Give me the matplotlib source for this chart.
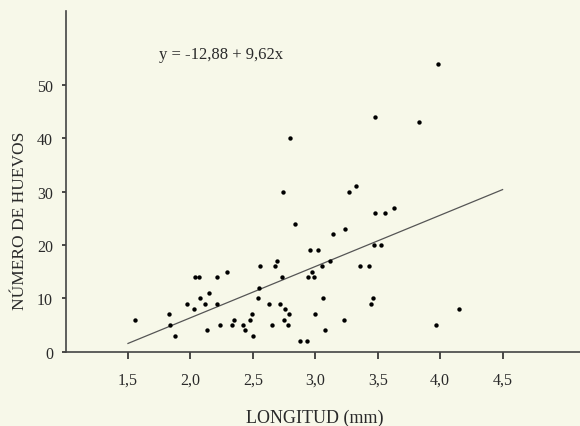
import matplotlib

matplotlib.use("Agg")
import matplotlib.pyplot as plt

# longitud (mm) vs número de huevos
longitud = [1.56, 1.83, 1.84, 1.88, 1.97, 2.03, 2.04, 2.07, 2.08, 2.12,
            2.13, 2.15, 2.21, 2.21, 2.24, 2.29, 2.33, 2.35, 2.42, 2.44,
            2.48, 2.49, 2.50, 2.54, 2.55, 2.56, 2.63, 2.65, 2.68, 2.69,
            2.72, 2.73, 2.74, 2.75, 2.76, 2.78, 2.79, 2.80, 2.84, 2.88,
            2.93, 2.94, 2.96, 2.97, 2.99, 3.00, 3.02, 3.05, 3.06, 3.08,
            3.12, 3.14, 3.23, 3.24, 3.27, 3.33, 3.36, 3.43, 3.45, 3.46,
            3.47, 3.48, 3.53, 3.56, 3.63, 3.97, 4.15, 3.98, 3.48, 3.83]
huevos = [6, 7, 5, 3, 9, 8, 14, 14, 10, 9,
          4, 11, 14, 9, 5, 15, 5, 6, 5, 4,
          6, 7, 3, 10, 12, 16, 9, 5, 16, 17,
          9, 14, 30, 6, 8, 5, 7, 40, 24, 2,
          2, 14, 19, 15, 14, 7, 19, 16, 10, 4,
          17, 22, 6, 23, 30, 31, 16, 16, 9, 10,
          20, 26, 20, 26, 27, 5, 8, 54, 44, 43]

intercept, slope = -12.88, 9.62
fit_x = [1.5, 4.5]
x_ticks = [1.5, 2.0, 2.5, 3.0, 3.5, 4.0, 4.5]
y_ticks = [0, 10, 20, 30, 40, 50]

bg = "#f7f8e9"
ink = "#2a2a2a"
fs = 11.5
plt.rcParams["font.family"] = ["Liberation Serif", "DejaVu Serif"]

fig = plt.figure(figsize=(5.8, 4.27), dpi=100, facecolor=bg)
ax = fig.add_axes([0.113, 0.174, 0.887, 0.799], facecolor=bg)

ax.scatter(longitud, huevos, s=10, color="black", zorder=3, linewidths=0)
ax.plot(fit_x, [intercept + slope * v for v in fit_x], color="#555555", lw=0.9)

ax.text(1.75, 55.9, "y = -12,88 + 9,62x", fontsize=12, color=ink, va="center")

ax.set_xlim(1.0, 5.12)
ax.set_ylim(0, 64)
ax.set_xticks(x_ticks)
ax.set_xticklabels([f"{v:.1f}".replace(".", ",") for v in x_ticks])
ax.set_yticks(y_ticks)
ax.tick_params(axis="x", direction="out", length=5, width=1.2, pad=9,
               labelsize=fs, colors=ink)
ax.tick_params(axis="y", direction="out", length=3, width=1.2, pad=6,
               labelsize=fs, colors=ink)

for side in ("top", "right"):
    ax.spines[side].set_visible(False)
for side in ("left", "bottom"):
    ax.spines[side].set_color("#444444")
    ax.spines[side].set_linewidth(1.2)

ax.set_xlabel("LONGITUD (mm)", fontsize=13, color=ink, va="baseline")
ax.xaxis.set_label_coords(0.4846, -0.205)
ax.set_ylabel("NÚMERO DE HUEVOS", fontsize=12.5, color=ink)
ax.yaxis.set_label_coords(-0.073, 0.386)

fig.savefig("out.png", dpi=100, facecolor=bg)
